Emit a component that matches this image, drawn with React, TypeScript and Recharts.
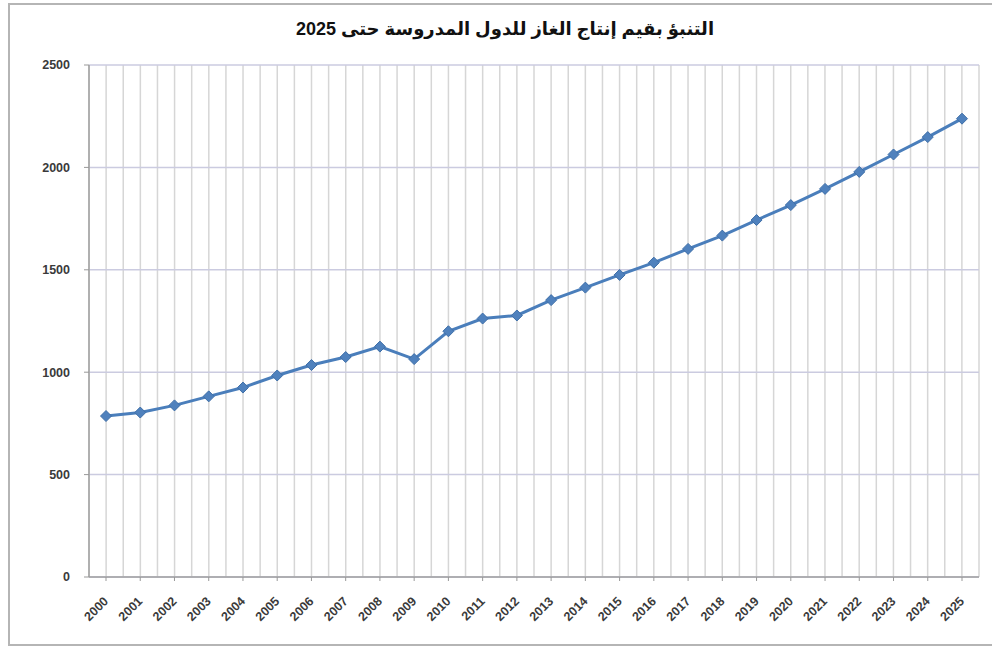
import { LineChart, Line, XAxis, YAxis, CartesianGrid } from 'recharts'

const years = [
  '2000', '2001', '2002', '2003', '2004', '2005', '2006', '2007', '2008', '2009',
  '2010', '2011', '2012', '2013', '2014', '2015', '2016', '2017', '2018', '2019',
  '2020', '2021', '2022', '2023', '2024', '2025',
]

const gasProduction = [
  786, 803, 838, 882, 925, 984, 1035, 1074, 1125, 1064,
  1200, 1262, 1277, 1352, 1413, 1475, 1535, 1602, 1667, 1743,
  1816, 1895, 1978, 2063, 2148, 2238,
]

const yTicks = [0, 500, 1000, 1500, 2000, 2500]

const TITLE = 'التنبؤ بقيم إنتاج الغاز للدول المدروسة حتى 2025'

const data = years.map((year, i) => ({ year, value: gasProduction[i] }))

const W = 992
const H = 646
const FONT = "'Liberation Sans', Arial, sans-serif"

// diamond marker like the excel default
function Diamond(props: any) {
  const { cx, cy } = props
  if (cx == null || cy == null) return null
  const r = 5.5
  return (
    <path
      d={`M${cx},${cy - r} L${cx + r},${cy} L${cx},${cy + r} L${cx - r},${cy} Z`}
      fill="#4F81BD"
      stroke="#3F6FA8"
      strokeWidth={1}
    />
  )
}

function YearTick(props: any) {
  const { x, y, payload } = props
  const ax = x + 3
  const ay = y + 19
  return (
    <text
      x={ax}
      y={ay}
      transform={`rotate(-45, ${ax}, ${ay})`}
      textAnchor="end"
      fontSize={12.5}
      fontWeight="bold"
      fill="#3a3a3a"
      fontFamily={FONT}
    >
      {payload.value}
    </text>
  )
}

export default function App(): React.JSX.Element {
  return (
    <div style={{ position: 'absolute', left: 0, top: 0, width: W, height: H, background: '#fff', overflow: 'hidden' }}>
      <div
        style={{
          position: 'absolute',
          left: 8,
          top: 3,
          width: 990,
          height: 643,
          border: '2px solid #b5b5b5',
          boxSizing: 'border-box',
        }}
      />
      <div
        dir="rtl"
        style={{
          position: 'absolute',
          left: 0,
          top: 18,
          width: 1010,
          textAlign: 'center',
          fontFamily: "'Liberation Sans', 'DejaVu Sans', sans-serif",
          fontWeight: 'bold',
          fontSize: 18,
          color: '#111',
        }}
      >
        {TITLE}
      </div>
      <div style={{ position: 'absolute', left: 0, top: 0 }}>
        <LineChart width={W} height={H} data={data} margin={{ top: 65, right: 13, left: 29, bottom: 24 }}>
          <CartesianGrid horizontal={false} stroke="#d6d6d6" strokeWidth={1.5}
            verticalCoordinatesGenerator={({ offset }: any) => {
              const n = years.length * 2
              const step = offset.width / n
              return Array.from({ length: n + 1 }, (_, k) => offset.left + k * step)
            }}
          />
          <CartesianGrid vertical={false} stroke="#cbcbe0" strokeWidth={1.5} />
          <XAxis
            dataKey="year"
            padding={{ left: 17, right: 17 }}
            interval={0}
            height={45}
            tick={<YearTick />}
            tickLine={{ stroke: '#999' }}
            tickSize={4}
            axisLine={{ stroke: '#a0a0a0', strokeWidth: 1.5 }}
          />
          <YAxis
            domain={[0, 2500]}
            ticks={yTicks}
            width={60}
            tick={{ fontSize: 12.5, fontWeight: 'bold', fill: '#3a3a3a', fontFamily: FONT }}
            tickLine={{ stroke: '#999' }}
            tickSize={5}
            tickMargin={14}
            axisLine={{ stroke: '#a0a0a0', strokeWidth: 1.5 }}
          />
          <Line
            type="linear"
            dataKey="value"
            stroke="#4A7EBB"
            strokeWidth={3}
            dot={<Diamond />}
            activeDot={false}
            isAnimationActive={false}
          />
        </LineChart>
      </div>
    </div>
  )
}
